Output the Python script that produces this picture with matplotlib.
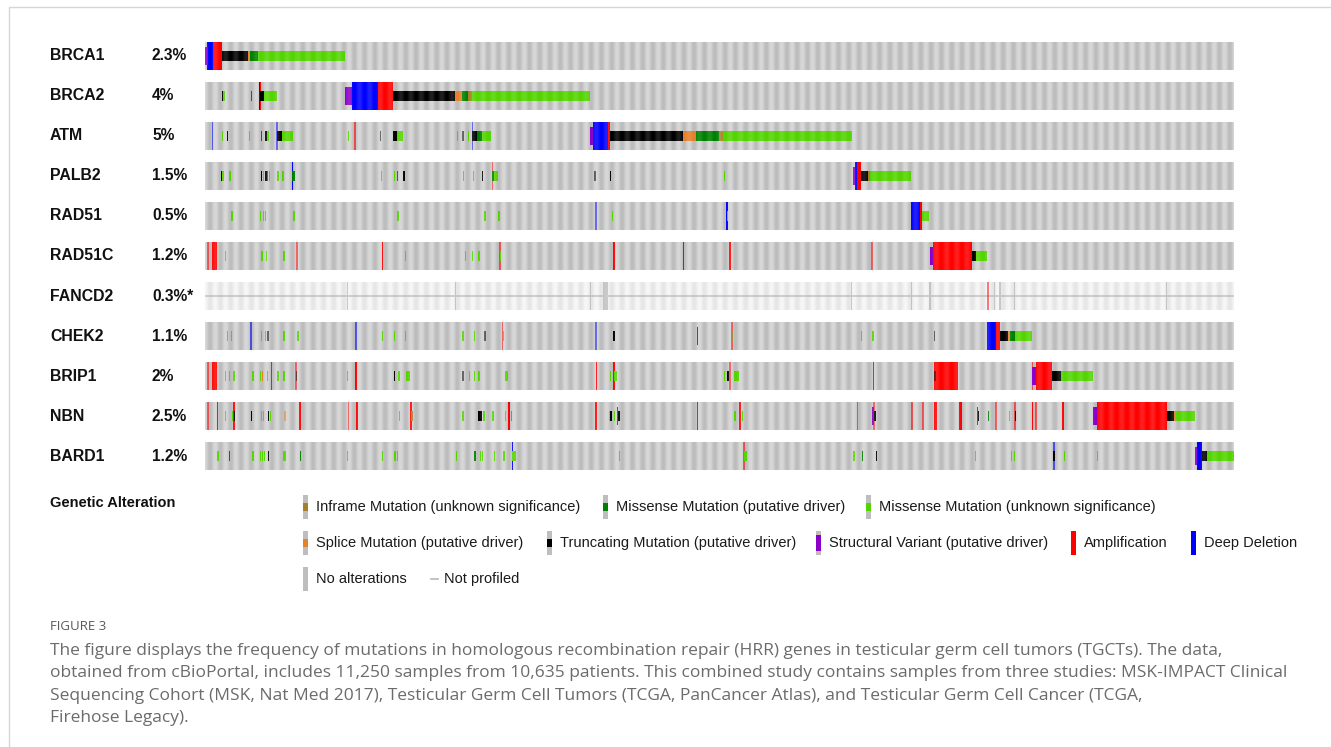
import numpy as np
import matplotlib
matplotlib.use("Agg")
import matplotlib.pyplot as plt
from matplotlib.colors import LinearSegmentedColormap
from matplotlib.transforms import blended_transform_factory

# oncoprint rows (top to bottom) and altered-sample frequency
genes = ["BRCA1", "BRCA2", "ATM", "PALB2", "RAD51", "RAD51C", "FANCD2", "CHEK2", "BRIP1", "NBN", "BARD1"]
freqs = ["2.3%", "4%", "5%", "1.5%", "0.5%", "1.2%", "0.3%*", "1.1%", "2%", "2.5%", "1.2%"]
n_columns = 1029  # compressed sample columns

# alterations per gene: (first column, number of columns, kind); "_f" = faint single sample
brca1 = [(0, 2.5, "sv"), (2.3, 5.4, "del"), (7.7, 9, "amp"), (16.7, 26.6, "trunc"), (43.3, 1.7, "splice"),
         (45, 8.3, "mis_d"), (53.3, 86.7, "mis_u")]
brca2 = [(16.7, 1.6, "trunc"), (18.3, 2, "mis_u"), (45.7, 1, "trunc_f"), (53.7, 0.8, "del"), (54.5, 0.8, "amp"),
         (55.3, 4, "trunc"), (59.3, 12.4, "mis_u"), (140, 6.7, "sv"), (146.7, 26, "del"), (172.7, 15.6, "amp"),
         (188.3, 62, "trunc"), (250.3, 6.4, "splice"), (256.7, 6.6, "mis_d"), (263.3, 3.4, "inf"), (266.7, 118.3, "mis_u")]
atm = [(6.7, 1, "del_f"), (17, 1, "mis_u"), (21.7, 1.5, "trunc"), (43.7, 1, "mis_u"), (55.7, 1, "trunc_f"),
       (60.3, 1.5, "trunc"), (61.8, 2.5, "mis_u"), (71.3, 0.8, "del_f"), (71.7, 5, "trunc"), (76.7, 11, "mis_u"),
       (142.7, 1, "mis_u"), (149, 1, "amp_f"), (175, 1, "trunc_f"), (188.3, 3.4, "trunc"), (191.7, 6, "mis_u"),
       (251.7, 1, "mis_u"), (257.3, 1, "trunc_f"), (262.7, 1, "mis_u"), (266.7, 0.8, "del_f"), (267.3, 4.4, "trunc"),
       (271.7, 5, "mis_d"), (276.7, 9.3, "mis_u"), (385, 3.3, "sv"), (388.3, 15, "del"), (403.3, 2, "amp"),
       (405.3, 73, "trunc"), (478.3, 12.4, "splice"), (490.7, 23.6, "mis_d"), (514.3, 3.4, "inf"), (517.7, 129, "mis_u")]
palb2 = [(15.7, 1.5, "trunc"), (17.2, 1.8, "mis_u"), (23.7, 2, "mis_u"), (55.7, 1.5, "trunc"), (57.7, 1.2, "mis_u"),
         (59.5, 2, "trunc"), (61.5, 1.8, "trunc_f"), (64, 1.2, "mis_u"), (72.3, 0.8, "mis_u"), (77.3, 1, "mis_u"),
         (86.7, 0.8, "del"), (87.3, 2.7, "mis_d"), (176, 0.8, "mis_u"), (189, 1, "mis_u"), (191.7, 1, "trunc_f"),
         (198.3, 1, "trunc"), (258, 1, "mis_u"), (267.7, 0.8, "mis_u"), (276.7, 1.2, "trunc"), (286.7, 0.8, "amp_f"),
         (287.3, 1.5, "mis_d"), (288.8, 4, "mis_u"), (389.3, 1, "trunc_f"), (405, 1.2, "trunc"), (519, 1.5, "mis_u"),
         (647.7, 2.3, "sv"), (650, 2.3, "del"), (652.3, 3.4, "amp"), (655.7, 7.6, "trunc"), (663.3, 1.7, "inf"),
         (665, 40.7, "mis_u")]
rad51 = [(26.3, 1, "mis_u"), (55, 1, "mis_u"), (57.5, 1, "mis_u"), (60, 1, "mis_u"), (88.3, 1.2, "mis_u"),
         (192.3, 1.2, "mis_u"), (279.3, 0.8, "mis_u"), (293.3, 1.5, "mis_u"), (390, 0.8, "del_f"), (406.7, 1.2, "mis_u"),
         (521, 1, "del"), (522, 1.5, "mis_u"), (705.7, 9.3, "del"), (715, 2, "amp"), (717, 7.3, "mis_u")]
rad51c = [(2.3, 1, "amp_f"), (7, 4.5, "amp"), (19.7, 1, "mis_u"), (55.7, 1, "mis_u"), (57, 1.2, "mis_u"),
          (60.5, 1, "mis_u"), (78.3, 1.2, "mis_u"), (91, 1, "amp_f"), (176.7, 1, "amp"), (199.7, 1.2, "mis_u"),
          (260, 1, "mis_u"), (266.7, 1, "mis_u"), (273.3, 1.2, "mis_u"), (294, 0.8, "amp_f"), (295, 1.5, "mis_u"),
          (408, 0.8, "amp"), (477.7, 0.8, "amp"), (524.3, 1, "amp"), (666, 0.8, "amp_f"), (725, 3.3, "sv"),
          (728.3, 38.4, "amp"), (766.7, 4, "trunc"), (770.7, 11, "mis_u")]
fancd2 = [(782, 1, "amp_f")]
fancd2_profiled = [(141.7, 1), (250, 1.5), (385, 1), (398.3, 4.4), (646, 1), (706, 1), (724.3, 1),
                   (789, 1.5), (794.3, 1.5), (809, 1.2), (960.7, 1.2)]
chek2 = [(21.7, 1, "mis_u"), (25.5, 1.2, "mis_u"), (45, 0.8, "del_f"), (55.7, 1, "mis_u"), (59.5, 1, "mis_u"),
         (62.3, 1.2, "trunc_f"), (78.3, 1, "mis_u"), (92.3, 1.5, "mis_u"), (150, 0.8, "del_f"), (176.7, 1, "mis_u"),
         (189, 1.2, "mis_u"), (200, 1.2, "mis_u"), (257.3, 1, "mis_u"), (268.7, 1, "mis_u"), (279.3, 1, "trunc_f"),
         (296.7, 0.8, "amp_f"), (298, 1.5, "mis_u"), (390, 0.8, "del_f"), (408.3, 1, "trunc"), (491.7, 0.8, "sv"),
         (526, 0.8, "amp_f"), (527, 1, "inf"), (656, 1, "mis_u"), (667.3, 1, "mis_u"), (729, 1.5, "trunc_f"),
         (782.3, 8.7, "del"), (791, 4.3, "amp"), (795.3, 8, "trunc"), (803.3, 1.4, "splice"), (804.7, 5.3, "mis_d"),
         (810, 17.3, "mis_u")]
brip1 = [(2.3, 1, "amp_f"), (7, 4.7, "amp"), (19.7, 1, "mis_u"), (24, 1, "mis_u"), (28.3, 1, "mis_u"),
         (47.3, 1, "mis_u"), (55, 1.2, "mis_u"), (57, 1.2, "splice"), (61.7, 1, "mis_u"), (65.7, 0.8, "del_f"),
         (72.3, 1, "mis_u"), (78.3, 1, "mis_u"), (90, 0.8, "amp_f"), (91, 1.3, "trunc_f"), (141.7, 1, "mis_u"),
         (150, 1, "amp"), (189, 1.2, "trunc"), (193.3, 1, "mis_u"), (200.7, 4.3, "mis_u"), (257.3, 1, "trunc_f"),
         (264, 1, "mis_u"), (269, 1, "mis_u"), (273.3, 1, "mis_u"), (300, 3.3, "mis_u"), (390.7, 1, "amp"),
         (405, 1, "mis_u"), (408, 0.8, "amp"), (409, 3.3, "mis_u"), (519, 1, "mis_u"), (522.3, 1, "trunc"),
         (524, 0.8, "amp_f"), (529, 4.7, "mis_u"), (667.7, 1, "amp"), (729.3, 24, "amp"), (729.5, 1, "trunc_f"),
         (826.7, 0.8, "amp_f"), (827.3, 3.7, "sv"), (831, 16.3, "amp"), (847.3, 9.4, "trunc"), (856, 1.3, "splice"),
         (857.3, 30.4, "mis_u")]
nbn = [(2.3, 1, "amp_f"), (11.7, 1, "amp"), (19.7, 1, "mis_u"), (27, 1, "mis_u"), (28.3, 1, "amp"),
       (28.8, 1, "trunc"), (46, 1.2, "trunc"), (55.7, 1, "mis_u"), (58, 1, "mis_u"), (62.7, 1.2, "trunc"),
       (65, 1, "mis_u"), (79.3, 0.8, "splice_f"), (94.3, 1, "amp"), (142.7, 0.8, "amp_f"), (151, 1.2, "amp"),
       (194, 1, "mis_u"), (205, 1.2, "amp"), (206.3, 1, "inf"), (257.3, 1, "mis_u"), (273.3, 1.2, "trunc"),
       (275.5, 1.2, "trunc"), (278.3, 1, "mis_u"), (287.3, 1, "mis_u"), (300, 1, "mis_u"), (303.3, 1.7, "amp"),
       (305.7, 1, "inf"), (390, 0.8, "amp"), (404, 1, "splice_f"), (405.3, 1.2, "trunc"), (409, 1, "mis_u"),
       (411.7, 0.8, "sv"), (413.3, 1.2, "trunc"), (491.7, 0.8, "amp"), (529.3, 1, "mis_u"), (534.3, 1.7, "amp"),
       (536.7, 1.2, "mis_u"), (651.7, 0.8, "amp_f"), (667.3, 0.8, "sv"), (668.3, 0.8, "amp_f"), (669.3, 1, "trunc"),
       (706, 0.8, "amp_f"), (717, 0.8, "amp_f"), (729, 3.3, "amp"), (754.3, 2.4, "amp"), (772, 0.8, "sv"),
       (772.7, 1, "trunc"), (782.7, 1, "mis_d"), (790, 0.8, "amp_f"), (804, 1, "mis_u"), (809.3, 0.8, "amp_f"),
       (810, 1, "trunc"), (826.7, 1.2, "amp"), (830, 1.2, "amp_f"), (856.7, 2.3, "amp"), (888.3, 3.4, "sv"),
       (891.7, 70, "amp"), (961.7, 7.6, "trunc"), (969.3, 1.4, "splice"), (970.7, 19.3, "mis_u")]
bard1 = [(12.3, 1, "mis_u"), (24, 1, "trunc_f"), (47.3, 1, "mis_u"), (55, 1, "mis_u"), (57, 1, "mis_u"),
         (59, 1, "mis_u"), (62.7, 1.2, "trunc"), (78.3, 2.7, "mis_u"), (95, 1.2, "mis_d"), (141.7, 1, "mis_u"),
         (176.7, 1, "mis_u"), (189.3, 1, "mis_u"), (191.7, 1, "mis_u"), (251, 1, "mis_u"), (269.3, 1, "mis_d"),
         (275, 1, "mis_u"), (277, 1, "mis_u"), (289, 1, "mis_u"), (298.3, 0.8, "mis_u"), (306.7, 1, "del"),
         (307.3, 3.4, "mis_u"), (414, 1, "mis_u"), (538.3, 0.8, "amp_f"), (539, 3.3, "mis_u"), (648.3, 0.8, "mis_u"),
         (657, 1.2, "mis_d"), (670.7, 1.2, "trunc"), (770, 0.8, "mis_u"), (805.7, 1, "mis_u"), (809, 1, "mis_u"),
         (848.3, 0.8, "del_f"), (848.5, 1, "trunc"), (859, 1, "mis_u"), (891.7, 0.8, "mis_u"), (990, 2.3, "sv"),
         (992.3, 4.4, "del"), (997.3, 4.4, "trunc"), (1001.7, 1.6, "splice"), (1003.3, 25.7, "mis_u")]
alterations = [brca1, brca2, atm, palb2, rad51, rad51c, fancd2, chek2, brip1, nbn, bard1]

colors = {"amp": "#ff0000", "del": "#0000ff", "sv": "#8b00c9", "trunc": "#000000", "mis_d": "#008000",
          "mis_u": "#53d400", "splice": "#e5802b", "inf": "#a68028"}
heights = {"amp": 0.7, "del": 0.7, "sv": 0.44, "trunc": 0.24, "mis_d": 0.24, "mis_u": 0.24,
           "splice": 0.24, "inf": 0.24}
layer = {"amp": 2, "del": 2, "sv": 3, "trunc": 4, "mis_d": 4, "mis_u": 4, "splice": 4, "inf": 4}

legend_rows = [
    [(303, "inf", "Inframe Mutation (unknown significance)"), (603, "mis_d", "Missense Mutation (putative driver)"),
     (866, "mis_u", "Missense Mutation (unknown significance)")],
    [(303, "splice", "Splice Mutation (putative driver)"), (547, "trunc", "Truncating Mutation (putative driver)"),
     (816, "sv", "Structural Variant (putative driver)"), (1071, "amp", "Amplification"), (1191, "del", "Deep Deletion")],
    [(303, None, "No alterations"), (433, "np", "Not profiled")],
]
caption_lines = [
    "The figure displays the frequency of mutations in homologous recombination repair (HRR) genes in testicular germ cell tumors (TGCTs). The data,",
    "obtained from cBioPortal, includes 11,250 samples from 10,635 patients. This combined study contains samples from three studies: MSK-IMPACT Clinical",
    "Sequencing Cohort (MSK, Nat Med 2017), Testicular Germ Cell Tumors (TCGA, PanCancer Atlas), and Testicular Germ Cell Cancer (TCGA,",
    "Firehose Legacy).",
]

W, H = 1331, 747
fig = plt.figure(figsize=(W / 100, H / 100), dpi=100)

# page layer in pixel units for frame, legend and caption
lax = fig.add_axes([0, 0, 1, 1])
lax.set_xlim(0, W)
lax.set_ylim(H, 0)
lax.axis("off")
lax.plot([9, 9, W], [H, 7, 7], color="#d6d6d6", lw=1)

ax = fig.add_axes([205 / W, 1 - 470 / H, 1029 / W, 428 / H])
half = 0.35
period = 10.3
cols = np.arange(n_columns) + 0.5
wave = 0.5 + 0.5 * np.cos(2 * np.pi * cols / period)
gray_cmap = LinearSegmentedColormap.from_list("g", ["#bcbcbc", "#d3d3d3"])
np_cmap = LinearSegmentedColormap.from_list("n", ["#e6e6e6", "#f6f6f6"])
sheen = np.zeros((1, n_columns, 4))
sheen[..., :3] = 1.0
sheen[..., 3] = 0.13 * wave

for i, (gene, alts) in enumerate(zip(genes, alterations)):
    ext = (0, n_columns, i + half, i - half)
    ax.imshow(wave[None, :], cmap=np_cmap if gene == "FANCD2" else gray_cmap, aspect="auto",
              extent=ext, zorder=0, interpolation="bilinear")
    if gene == "FANCD2":
        for s, w in fancd2_profiled:
            ax.bar(s, 2 * half, width=max(w, 1.5), bottom=i - half, align="edge", color="#c2c2c2", lw=0, zorder=1)
        ax.plot([0, n_columns], [i, i], color="#c4c4c4", lw=1.3, zorder=1.5)
    for s, w, kind in sorted(alts, key=lambda a: layer[a[2].replace("_f", "")]):
        base = kind.replace("_f", "")
        h = heights[base]
        w = max(w, 1.7 if layer[base] == 2 else 1.3)
        ax.bar(s, h, width=w, bottom=i - h / 2, align="edge", color=colors[base], lw=0,
               alpha=0.6 if kind.endswith("_f") else 1.0, zorder=layer[base])
    ax.imshow(sheen, aspect="auto", extent=ext, zorder=6, interpolation="bilinear")

ax.set_xlim(0, n_columns)
ax.set_ylim(len(genes) - 1 + half, -half)
ax.axis("off")

lab = blended_transform_factory(fig.transFigure, ax.transData)
for i, (gene, f) in enumerate(zip(genes, freqs)):
    fig.text(50 / W, i, gene, transform=lab, va="center", ha="left", fontsize=11.4,
             fontweight="bold", family="Liberation Sans", color="#111111")
    fig.text(152 / W, i, f, transform=lab, va="center", ha="left", fontsize=11.2,
             fontweight="bold", family="Liberation Sans", color="#111111")

# legend
lax.text(50, 503, "Genetic Alteration", fontsize=10.5, fontweight="bold", family="Liberation Sans",
         va="center", ha="left", color="#111111")
for yc, row in zip([507, 543, 579], legend_rows):
    for x0, kind, label in row:
        if kind == "np":
            lax.plot([x0 - 2, x0 + 5], [yc, yc], color="#b8b8b8", lw=1.2)
        else:
            lax.bar(x0, 24, width=5, bottom=yc - 12, align="edge", color="#bebebe", lw=0)
            if kind is not None:
                h = 24 * heights[kind] / 0.7
                lax.bar(x0, h, width=5, bottom=yc - h / 2, align="edge", color=colors[kind], lw=0)
        lax.text(x0 + 13 if kind != "np" else x0 + 11, yc, label, fontsize=10.5, family="Liberation Sans",
                 va="center", ha="left", color="#1a1a1a")

# caption
lax.text(50, 627, "FIGURE 3", fontsize=9.5, family="Open Sans", color="#5a5a5a", va="center", ha="left")
for yc, line in zip([651, 673, 696, 718], caption_lines):
    lax.text(50, yc, line, fontsize=12.5, family="Open Sans", color="#6b6b6b", va="center", ha="left")

fig.savefig("out.png", dpi=100)
